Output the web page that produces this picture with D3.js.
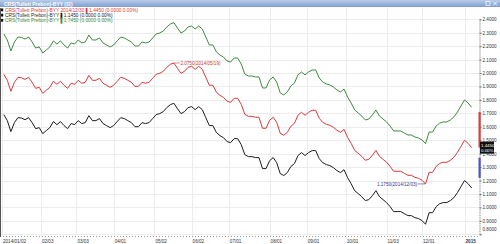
<!DOCTYPE html>
<html>
<head>
<meta charset="utf-8">
<script src="https://cdn.jsdelivr.net/npm/d3@7"></script>
<style>
    body { margin: 0; background: #fff; }
    svg { display: block; font-family: "Liberation Sans", Arial, sans-serif; }
</style>
</head>
<body>
<div id="chart"></div>
<script>
// --- data ---
const chartTitle = "CRS(Tullett Prebon)-BYY (日)";
const legendLabels = [
    "CRS(Tullett Prebon)-BYY 2014/12/30 ▌1.4450 (0.0000 0.00%)",
    "CRS(Tullett Prebon)-BYY ▌1.1450 (0.0000 0.00%)",
    "CRS(Tullett Prebon)-BYY ▌1.7450 (0.0000 0.00%)"
];
// one value every second trading day, starting 2014/01/03
const firstDay = "2014-01-02";
const greenValues = [
    2.291,2.246,2.164,2.231,2.268,2.265,2.253,2.268,2.231,2.186,
    2.194,2.149,2.172,2.194,2.239,2.216,2.239,2.209,2.186,2.224,
    2.216,2.246,2.224,2.231,2.283,2.246,2.246,2.261,2.224,2.209,
    2.194,2.209,2.239,2.268,2.261,2.246,2.231,2.201,2.201,2.231,
    2.224,2.231,2.261,2.291,2.298,2.313,2.343,2.365,2.375,2.335,
    2.298,2.313,2.343,2.350,2.328,2.350,2.328,2.268,2.209,2.209,
    2.157,2.134,2.119,2.090,2.082,2.112,2.112,2.067,1.993,1.978,
    1.978,1.971,1.971,1.889,1.889,1.948,1.971,1.933,1.852,1.837,
    1.859,1.904,1.926,1.986,2.008,1.986,2.008,2.023,2.023,1.963,
    1.933,1.919,1.911,1.896,1.874,1.859,1.881,1.822,1.777,1.725,
    1.703,1.680,1.651,1.658,1.688,1.725,1.680,1.658,1.636,1.606,
    1.569,1.569,1.569,1.554,1.539,1.539,1.524,1.517,1.502,1.475,
    1.561,1.561,1.606,1.628,1.636,1.636,1.651,1.673,1.710,1.755,
    1.800,1.777,1.745
];
const redValues = [
    1.991,1.946,1.864,1.931,1.968,1.965,1.953,1.968,1.931,1.886,
    1.894,1.849,1.872,1.894,1.939,1.916,1.939,1.909,1.886,1.924,
    1.916,1.946,1.924,1.931,1.983,1.946,1.946,1.961,1.924,1.909,
    1.894,1.909,1.939,1.968,1.961,1.946,1.931,1.901,1.901,1.931,
    1.924,1.931,1.961,1.991,1.998,2.013,2.043,2.065,2.075,2.035,
    1.998,2.013,2.043,2.050,2.028,2.050,2.028,1.968,1.909,1.909,
    1.857,1.834,1.819,1.790,1.782,1.812,1.812,1.767,1.693,1.678,
    1.678,1.671,1.671,1.589,1.589,1.648,1.671,1.633,1.552,1.537,
    1.559,1.604,1.626,1.686,1.708,1.686,1.708,1.723,1.723,1.663,
    1.633,1.619,1.611,1.596,1.574,1.559,1.581,1.522,1.477,1.425,
    1.403,1.380,1.351,1.358,1.388,1.425,1.380,1.358,1.336,1.306,
    1.269,1.269,1.269,1.254,1.239,1.239,1.224,1.217,1.202,1.175,
    1.261,1.261,1.306,1.328,1.336,1.336,1.351,1.373,1.410,1.455,
    1.500,1.477,1.445
];
const blackValues = [
    1.691,1.646,1.564,1.631,1.668,1.665,1.653,1.668,1.631,1.586,
    1.594,1.549,1.572,1.594,1.639,1.616,1.639,1.609,1.586,1.624,
    1.616,1.646,1.624,1.631,1.683,1.646,1.646,1.661,1.624,1.609,
    1.594,1.609,1.639,1.668,1.661,1.646,1.631,1.601,1.601,1.631,
    1.624,1.631,1.661,1.691,1.698,1.713,1.743,1.765,1.775,1.735,
    1.698,1.713,1.743,1.750,1.728,1.750,1.728,1.668,1.609,1.609,
    1.557,1.534,1.519,1.490,1.482,1.512,1.512,1.467,1.393,1.378,
    1.378,1.371,1.371,1.289,1.289,1.348,1.371,1.333,1.252,1.237,
    1.259,1.304,1.326,1.386,1.408,1.386,1.408,1.423,1.423,1.363,
    1.333,1.319,1.311,1.296,1.274,1.259,1.281,1.222,1.177,1.125,
    1.103,1.080,1.051,1.058,1.088,1.125,1.080,1.058,1.036,1.006,
    0.969,0.969,0.969,0.954,0.939,0.939,0.924,0.917,0.902,0.875,
    0.961,0.961,1.006,1.028,1.036,1.036,1.051,1.073,1.110,1.155,
    1.200,1.177,1.145
];
const tickDates = ["2014-01-02","2014-02-03","2014-03-03","2014-04-01","2014-05-02","2014-06-02",
    "2014-07-01","2014-08-01","2014-09-01","2014-10-01","2014-11-03","2014-12-01","2015-01-02"];
const tickLabels = ["2014/01/02","02/03","03/03","04/01","05/02","06/02",
    "07/01","08/01","09/01","10/01","11/03","12/01","2015"];
const yTicks = [0.8,0.9,1.0,1.1,1.2,1.3,1.4,1.5,1.6,1.7,1.8,1.9,2.0,2.1,2.2,2.3,2.4];
const maxNote = { date: "2014-05-19", text: "2.0750(2014/05/19)" };
const minNote = { date: "2014-12-03", text: "1.1750(2014/12/03)" };
const lastPrice = ["1.4450", "0.00%"];
const rangeBands = [[1.445, 1.71], [1.22, 1.37]];

// --- helpers ---
// trading-day index counted in weekdays from the first day
function dayIndex(s) {
    const d = new Date(firstDay + "T00:00:00Z");
    const t = new Date(s + "T00:00:00Z");
    let n = 0;
    while (d < t) {
        const w = d.getUTCDay();
        if (w !== 0 && w !== 6) n++;
        d.setUTCDate(d.getUTCDate() + 1);
    }
    return n;
}
const pointIndex = j => 1 + 2 * j;

const W = 500, H = 244;
const svg = d3.select("#chart").append("svg").attr("width", W).attr("height", H);

const x = d3.scaleLinear().domain([0, 266]).range([2, 473.4]);
const y = d3.scaleLinear().domain([0.8, 2.4]).range([234.3, 19.3]);

// plot background + frame
svg.append("rect").attr("x", 0).attr("y", 0).attr("width", W).attr("height", H).attr("fill", "#fff");

// grid
const grid = svg.append("g");
grid.selectAll("line.h").data(yTicks).join("line")
    .attr("x1", 1).attr("x2", 479)
    .attr("y1", d => Math.round(y(d)) + 0.5).attr("y2", d => Math.round(y(d)) + 0.5)
    .attr("stroke", "#ececec").attr("stroke-width", 1);
grid.selectAll("line.v").data(tickDates).join("line")
    .attr("x1", d => Math.round(x(dayIndex(d))) + 0.5).attr("x2", d => Math.round(x(dayIndex(d))) + 0.5)
    .attr("y1", 8).attr("y2", 236)
    .attr("stroke", "#ececec").attr("stroke-width", 1);

// lines
const line = d3.line().x((d, j) => x(pointIndex(j))).y(d => y(d));
const series = [
    { values: greenValues, color: "#3d8b3d" },
    { values: redValues, color: "#d83a3a" },
    { values: blackValues, color: "#1c1c1c" }
];
svg.append("g").selectAll("path").data(series).join("path")
    .attr("d", d => line(d.values))
    .attr("fill", "none")
    .attr("stroke", d => d.color)
    .attr("stroke-width", 1)
    .attr("stroke-linejoin", "round");

// max / min notes on the red series
const noteG = svg.append("g").attr("font-size", 4.6);
{
    const i = dayIndex(maxNote.date);
    const px = x(i), py = y(redValues[(i - 1) / 2]);
    noteG.append("line").attr("x1", px).attr("x2", px + 6).attr("y1", py).attr("y2", py)
        .attr("stroke", "#d83a3a").attr("stroke-width", 0.6);
    noteG.append("text").attr("x", px + 6.5).attr("y", py + 1.6).attr("fill", "#c83a3a").text(maxNote.text);
}
{
    const i = dayIndex(minNote.date);
    const px = x(i), py = y(redValues[(i - 1) / 2]);
    noteG.append("line").attr("x1", px - 8).attr("x2", px).attr("y1", py).attr("y2", py)
        .attr("stroke", "#3a3a9a").attr("stroke-width", 0.6);
    noteG.append("text").attr("x", px - 8.5).attr("y", py + 1.6).attr("text-anchor", "end")
        .attr("fill", "#34349a").text(minNote.text);
}

// right axis
const yAxis = d3.axisRight(y).tickValues(yTicks).tickSize(2).tickFormat(d3.format(".4f"));
const ya = svg.append("g").attr("transform", "translate(479.5,0)").call(yAxis);
ya.select(".domain").attr("stroke", "#888").attr("stroke-dasharray", "1,1");
ya.selectAll(".tick line").attr("stroke", "#666");
ya.selectAll("text").attr("font-size", 4.6).attr("fill", "#333").attr("x", 3);
ya.selectAll(".tick").filter(d => d === 0.8).select("text").attr("dy", "-0.9em");
// minor ticks
ya.append("g").selectAll("line").data(d3.range(0.8, 2.401, 0.02)).join("line")
    .attr("x1", 0).attr("x2", 1).attr("y1", d => y(d)).attr("y2", d => y(d))
    .attr("stroke", "#999").attr("stroke-width", 0.5);

// range bands on the axis
svg.append("g").selectAll("rect").data(rangeBands).join("rect")
    .attr("x", 478.5).attr("width", 2.2)
    .attr("y", d => y(d[1])).attr("height", d => y(d[0]) - y(d[1]))
    .attr("fill", (d, i) => i === 0 ? "#d84040" : "#5050c8");

// last price box
const lp = svg.append("g").attr("transform", `translate(480,${y(redValues[redValues.length - 1]) - 6})`);
lp.append("rect").attr("width", 14).attr("height", 12).attr("fill", "#111");
lp.selectAll("text").data(lastPrice).join("text")
    .attr("x", 1).attr("y", (d, i) => 5 + i * 5)
    .attr("font-size", 4.4).attr("fill", "#fff").text(d => d);

// bottom axis
const xa = svg.append("g").attr("transform", "translate(0,236.5)");
xa.append("line").attr("x1", 0).attr("x2", 479).attr("stroke", "#999").attr("stroke-dasharray", "1,2");
xa.selectAll("text").data(tickDates).join("text")
    .attr("x", d => x(dayIndex(d)) + 1)
    .attr("y", 6)
    .attr("font-size", 4.6).attr("fill", "#333")
    .attr("font-weight", (d, i) => i === tickDates.length - 1 ? "bold" : null)
    .text((d, i) => tickLabels[i]);

// left border
svg.append("line").attr("x1", 0.5).attr("x2", 0.5).attr("y1", 8).attr("y2", 237).attr("stroke", "#555");

// title bar
const tb = svg.append("g");
const grad = svg.append("defs").append("linearGradient").attr("id", "tbg").attr("x1", 0).attr("x2", 0).attr("y1", 0).attr("y2", 1);
grad.append("stop").attr("offset", 0).attr("stop-color", "#b8cdea");
grad.append("stop").attr("offset", 1).attr("stop-color", "#7f9fd0");
tb.append("rect").attr("width", W).attr("height", 7).attr("fill", "url(#tbg)");
tb.append("text").attr("x", 4).attr("y", 5.5).attr("font-size", 5).attr("font-weight", "bold")
    .attr("fill", "#fff").text(chartTitle);
tb.append("rect").attr("x", 486).attr("y", 1.5).attr("width", 4).attr("height", 4)
    .attr("fill", "none").attr("stroke", "#fff").attr("stroke-width", 0.7);
tb.append("path").attr("d", "M493,1.5 L497,5.5 M497,1.5 L493,5.5").attr("stroke", "#fff").attr("stroke-width", 0.8);

// legend
const lg = svg.append("g").attr("font-size", 4.8);
const legendColors = ["#d83a3a", "#1c1c1c", "#3d8b3d"];
legendLabels.forEach((t, i) => {
    lg.append("rect").attr("x", 1).attr("y", 8.5 + i * 5.2).attr("width", 2.2).attr("height", 2.8).attr("fill", "#111");
    lg.append("text").attr("x", 5).attr("y", 12 + i * 5.2).attr("fill", legendColors[i]).text(t);
});
</script>
</body>
</html>
